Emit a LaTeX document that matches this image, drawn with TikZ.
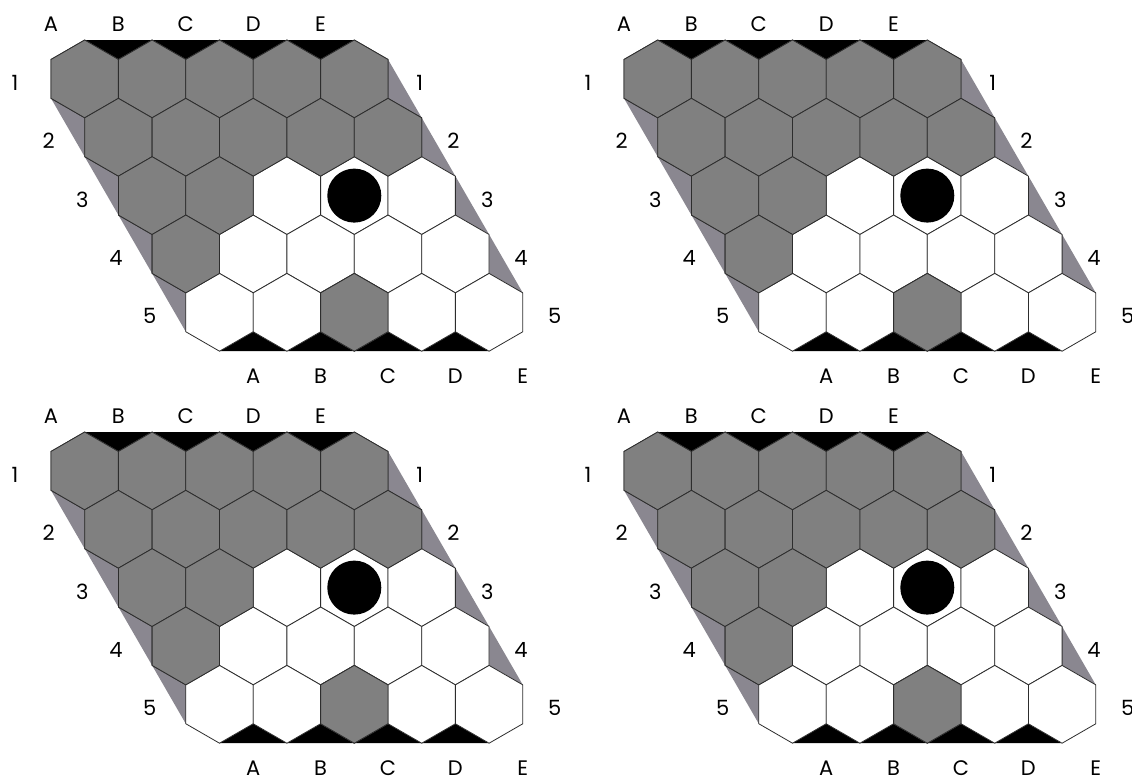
\documentclass[tikz,border=0pt]{standalone}
\usepackage{fontspec}
\setmainfont{Poppins}
\usetikzlibrary{calc}

\definecolor{cellgray}{RGB}{128,128,128}
\definecolor{sidegray}{RGB}{138,135,144}
\definecolor{gridline}{RGB}{45,45,45}

% half width and radius of one hex cell
\newcommand{\hw}{33.7}
\newcommand{\hr}{38.9}

\tikzset{
  whitecell/.style={fill=white, draw=gridline, line width=0.8pt, line join=round},
  graycell/.style={whitecell, fill=cellgray},
  coordtext/.style={font=\fontsize{21}{21}\selectfont, inner sep=0pt}
}

\begin{document}
\begin{tikzpicture}[x=1pt, y=-1pt]
  \useasboundingbox (0,0) rectangle (1132,780);

  \foreach \bx/\by/\b in {0/0/p, 573/0/q, 0/392/s, 573/392/t} {
    \begin{scope}[shift={(\bx,\by)}]
      % cell centres
      \foreach \r in {1,...,5}
        \foreach \c in {1,...,5} {
          \pgfmathsetmacro{\cx}{84.7+67.4*(\c-1)+\hw*(\r-1)}
          \pgfmathsetmacro{\cy}{78.9+58.35*(\r-1)}
          \coordinate (\b-\c\r) at (\cx,\cy);
        }

      % black edges (top, bottom) and grey edges (left, right)
      \foreach [evaluate=\c as \d using int(\c+1)] \c in {1,...,4} {
        \fill[black] ($(\b-\c1)+(0,-\hr)$) -- ($(\b-\d1)+(0,-\hr)$) -- ($(\b-\c1)+(\hw,-\hr/2)$) -- cycle;
        \fill[black] ($(\b-\c5)+(0,\hr)$) -- ($(\b-\d5)+(0,\hr)$) -- ($(\b-\c5)+(\hw,\hr/2)$) -- cycle;
        \fill[sidegray] ($(\b-1\c)+(-\hw,\hr/2)$) -- ($(\b-1\d)+(-\hw,-\hr/2)$) -- ($(\b-1\d)+(-\hw,\hr/2)$) -- cycle;
        \fill[sidegray] ($(\b-5\c)+(\hw,-\hr/2)$) -- ($(\b-5\c)+(\hw,\hr/2)$) -- ($(\b-5\d)+(\hw,-\hr/2)$) -- cycle;
      }

      % cells
      \foreach \r in {1,...,5}
        \foreach \c in {1,...,5}
          \draw[whitecell] (\b-\c\r) +(90:\hr) -- +(30:\hr) -- +(-30:\hr) -- +(-90:\hr) -- +(-150:\hr) -- +(150:\hr) -- cycle;
      \foreach \c/\r in {1/1,2/1,3/1,4/1,5/1,1/2,2/2,3/2,4/2,5/2,1/3,2/3,1/4,3/5}
        \draw[graycell] (\b-\c\r) +(90:\hr) -- +(30:\hr) -- +(-30:\hr) -- +(-90:\hr) -- +(-150:\hr) -- +(150:\hr) -- cycle;

      % stone
      \fill[black] (\b-43) circle (27pt);

      % coordinates round the board
      \foreach \c/\l in {1/A,2/B,3/C,4/D,5/E} {
        \node[coordtext] (\b-top\l) at ($(\b-\c1)+(-\hw,-55)$) {\l};
        \node[coordtext] (\b-bot\l) at ($(\b-\c5)+(\hw,64.2)$) {\l};
      }
      \foreach \r in {1,...,5} {
        \node[coordtext] (\b-left\r) at ($(\b-1\r)+(-69.7,4)$) {\r};
        \node[coordtext] (\b-right\r) at ($(\b-5\r)+(65.5,4)$) {\r};
      }
    \end{scope}
  }
\end{tikzpicture}
\end{document}
